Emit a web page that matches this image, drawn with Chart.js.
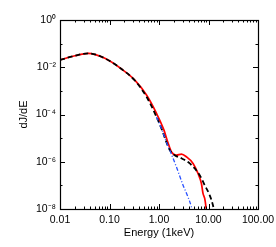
<!DOCTYPE html>
<html>
<head>
<meta charset="utf-8">
<script src="https://cdn.jsdelivr.net/npm/chart.js@4/dist/chart.umd.min.js"></script>
<style>
html,body{margin:0;padding:0;background:#fff;}
#wrap{width:276px;height:247px;position:relative;}
</style>
</head>
<body>
<div id="wrap"><canvas id="c" width="276" height="247"></canvas></div>
<script>
// Energy (keV) and dJ/dE values
const redEnergy = [0.010, 0.020, 0.0372, 0.0807, 0.175, 0.325, 0.560, 0.891, 1.26, 1.52, 1.79, 2.25, 2.84, 3.58, 4.88, 6.14, 7.19, 7.74, 8.38, 9.08];
const redFlux   = [0.0204, 0.0307, 0.0388, 0.0238, 0.00839, 0.00287, 6.64e-4, 1.11e-4, 2.18e-5, 6.3e-6, 2.6e-6, 1.9e-6, 2.1e-6, 1.62e-6, 8.5e-7, 3.2e-7, 1.2e-7, 4.6e-8, 2.8e-8, 8.9e-9];
const blackEnergy = [0.010, 0.020, 0.0372, 0.0807, 0.175, 0.325, 0.560, 0.891, 1.15, 1.41, 1.65, 2.08, 2.84, 4.18, 6.65, 8.38, 10.6, 12.3, 13.0];
const blackFlux   = [0.0204, 0.0307, 0.0388, 0.0238, 0.00839, 0.00275, 5.6e-4, 7.9e-5, 2.2e-5, 6.8e-6, 3.1e-6, 1.9e-6, 1.4e-6, 8.5e-7, 2.7e-7, 1.02e-7, 3.8e-8, 1.45e-8, 8e-9];
const blueEnergy = [0.891, 1.15, 1.41, 1.65, 2.25, 3.06, 3.86, 4.52, 4.75];
const blueFlux   = [7.9e-5, 2.2e-5, 6.8e-6, 3.1e-6, 6.0e-7, 1.02e-7, 3.2e-8, 1.23e-8, 8e-9];
const xTickValues = [0.01, 0.1, 1, 10, 100];
const yTickValues = [1, 1e-2, 1e-4, 1e-6, 1e-8];
const yTickLabels = ['10⁰', '10⁻²', '10⁻⁴', '10⁻⁶', '10⁻⁸'];

function pts(xs, ys){ return xs.map((x,i)=>({x:x, y:ys[i]})); }

const FONT = "'Liberation Sans', Arial, sans-serif";

const boxTicks = {
  id:'boxTicks',
  afterDatasetsDraw(chart){
    const {ctx, chartArea:a, scales} = chart;
    const xs = scales.x, ys = scales.y;
    ctx.save();
    ctx.strokeStyle = '#000';
    ctx.lineWidth = 1;
    ctx.beginPath();
    for (let d=-2; d<2; d++){
      for (let m=1; m<=9; m++){
        const v = m*Math.pow(10,d);
        const px = Math.round(xs.getPixelForValue(v))+0.5;
        const len = m===1 ? 5 : 2.5;
        ctx.moveTo(px, a.bottom); ctx.lineTo(px, a.bottom-len);
        ctx.moveTo(px, a.top); ctx.lineTo(px, a.top+len);
      }
    }
    for (let e=0; e>=-8; e--){
      const v = Math.pow(10,e);
      const py = Math.round(ys.getPixelForValue(v))+0.5;
      const len = (e%2===0) ? 5 : 2.5;
      ctx.moveTo(a.left, py); ctx.lineTo(a.left+len, py);
      ctx.moveTo(a.right, py); ctx.lineTo(a.right-len, py);
    }
    ctx.stroke();
    ctx.lineWidth = 1.2;
    ctx.strokeRect(Math.round(a.left)+0.5, Math.round(a.top)+0.5, Math.round(a.right-a.left), Math.round(a.bottom-a.top));
    ctx.restore();
  }
};

new Chart(document.getElementById('c'), {
  type:'line',
  data:{
    datasets:[
      {data:pts(blueEnergy, blueFlux), borderColor:'rgb(40,80,255)', borderWidth:1.3, borderDash:[4,2,1,2], pointRadius:0, fill:false, cubicInterpolationMode:'monotone'},
      {data:pts(blackEnergy, blackFlux), borderColor:'#000', borderWidth:1.8, borderDash:[5,3], pointRadius:0, fill:false, cubicInterpolationMode:'monotone'},
      {data:pts(redEnergy, redFlux), borderColor:'rgb(255,0,0)', borderWidth:1.7, pointRadius:0, fill:false, cubicInterpolationMode:'monotone'}
    ]
  },
  options:{
    responsive:false,
    animation:false,
    devicePixelRatio:1,
    layout:{padding:{top:20, right:18, left:0, bottom:0}},
    plugins:{legend:{display:false}, tooltip:{enabled:false}},
    scales:{
      x:{
        type:'logarithmic', min:0.01, max:100,
        grid:{display:false, drawTicks:false}, border:{display:false},
        afterBuildTicks(s){ s.ticks = xTickValues.map(v=>({value:v})); },
        afterFit(s){ s.height = 38; s.paddingLeft = 0; s.paddingRight = 0; },
        ticks:{ color:'#000', font:{family:FONT, size:10.5}, padding:5, maxRotation:0, autoSkip:false,
          callback:(v)=>Number(v).toFixed(2) },
        title:{display:true, text:'Energy (1keV)', color:'#000', font:{family:FONT, size:11}, padding:{top:0,bottom:7}}
      },
      y:{
        type:'logarithmic', min:1e-8, max:1,
        grid:{display:false, drawTicks:false}, border:{display:false},
        afterBuildTicks(s){ s.ticks = yTickValues.map(v=>({value:v})); },
        afterFit(s){ s.width = 60; s.paddingTop = 0; s.paddingBottom = 0; },
        ticks:{ color:'#000', font:{family:FONT, size:10.5}, padding:4, autoSkip:false,
          callback:(v)=>{ const i = yTickValues.findIndex(t=>Math.abs(Math.log10(t)-Math.log10(v))<1e-6); return i>=0 ? yTickLabels[i] : ''; } },
        title:{display:true, text:'dJ/dE', color:'#000', font:{family:FONT, size:11}, padding:{top:17,bottom:0}}
      }
    }
  },
  plugins:[boxTicks]
});
</script>
</body>
</html>
